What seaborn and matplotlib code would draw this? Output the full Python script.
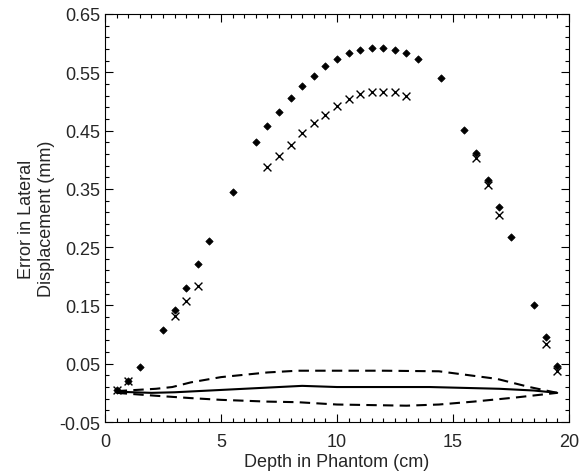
import numpy as np
import pandas as pd
import matplotlib
matplotlib.use("Agg")
import matplotlib.pyplot as plt
import seaborn as sns
from matplotlib.ticker import MultipleLocator, FixedLocator

# Data
dot_depth = [0.5, 1.0, 1.5, 2.5, 3.0, 3.5, 4.0, 4.5, 5.5, 6.5, 7.0, 7.5, 8.0, 8.5,
             9.0, 9.5, 10.0, 10.5, 11.0, 11.5, 12.0, 12.5, 13.0, 13.5, 14.5, 15.5,
             16.0, 16.5, 17.0, 17.5, 18.5, 19.0, 19.5]
dot_error = [0.005, 0.021, 0.045, 0.108, 0.143, 0.180, 0.221, 0.261, 0.344, 0.431,
             0.457, 0.482, 0.505, 0.527, 0.544, 0.560, 0.573, 0.583, 0.588, 0.592,
             0.592, 0.589, 0.583, 0.572, 0.540, 0.451, 0.412, 0.365, 0.318, 0.268,
             0.150, 0.095, 0.046]

cross_depth = [0.5, 1.0, 3.0, 3.5, 4.0, 7.0, 7.5, 8.0, 8.5, 9.0, 9.5, 10.0, 10.5,
               11.0, 11.5, 12.0, 12.5, 13.0, 16.0, 16.5, 17.0, 19.0, 19.5]
cross_error = [0.005, 0.020, 0.132, 0.157, 0.184, 0.387, 0.407, 0.426, 0.445, 0.463,
               0.477, 0.492, 0.504, 0.513, 0.517, 0.517, 0.516, 0.510, 0.403, 0.357,
               0.305, 0.083, 0.037]

mid_depth = [0.5, 2.0, 3.0, 5.0, 7.0, 8.5, 10.0, 12.0, 14.0, 15.0, 17.0, 18.5, 19.5]
mid_error = [0.002, 0.000, 0.001, 0.005, 0.009, 0.012, 0.010, 0.010, 0.010, 0.009,
             0.007, 0.004, 0.000]

upper_depth = [0.5, 2.2, 2.9, 3.7, 5.0, 7.0, 8.3, 10.0, 12.0, 14.4, 16.9, 18.3, 19.5]
upper_error = [0.003, 0.007, 0.010, 0.018, 0.027, 0.035, 0.038, 0.038, 0.038, 0.037,
               0.024, 0.010, 0.000]

lower_depth = [0.5, 2.2, 3.7, 5.0, 7.0, 8.3, 10.0, 13.0, 14.4, 15.9, 17.7, 19.5]
lower_error = [0.000, -0.005, -0.009, -0.012, -0.015, -0.016, -0.020, -0.022, -0.020,
               -0.015, -0.008, 0.000]

y_ticks = [-0.05, 0.05, 0.15, 0.25, 0.35, 0.45, 0.55, 0.65]

sns.set_style("ticks")
plt.rcParams['font.family'] = ['Liberation Sans', 'DejaVu Sans']

fig = plt.figure(figsize=(5.87, 4.77), dpi=100)
ax = fig.add_axes([0.179, 0.1132, 0.790, 0.8554])

# envelope lines
sns.lineplot(x=mid_depth, y=mid_error, ax=ax, color="black", lw=1.5, sort=False)
sns.lineplot(x=upper_depth, y=upper_error, ax=ax, color="black", lw=1.5, sort=False,
             linestyle=(0, (5, 3)))
sns.lineplot(x=lower_depth, y=lower_error, ax=ax, color="black", lw=1.5, sort=False,
             linestyle=(0, (5, 3)))

# measured points
sns.scatterplot(x=dot_depth, y=dot_error, ax=ax, marker="D", s=14, color="black",
                edgecolor="black", linewidth=0.5)
sns.scatterplot(x=cross_depth, y=cross_error, ax=ax, marker="x", s=32, color="black",
                linewidth=1.0)

ax.set_xlim(0, 20)
ax.set_ylim(-0.05, 0.65)
ax.xaxis.set_major_locator(MultipleLocator(5))
ax.xaxis.set_minor_locator(MultipleLocator(0.5))
ax.set_yticks(y_ticks)
ax.set_yticklabels(["%.2f" % v for v in y_ticks])
ax.yaxis.set_minor_locator(FixedLocator(np.arange(-0.05, 0.651, 0.02)))

ax.tick_params(which="both", direction="in", top=True, right=True, labelsize=13,
               color="black", width=0.8)
ax.tick_params(which="major", length=6)
ax.tick_params(which="minor", length=3)
ax.tick_params(axis="x", which="major", pad=8)
for sp in ax.spines.values():
    sp.set_color("black")
    sp.set_linewidth(0.8)

ax.set_xlabel("Depth in Phantom (cm)", fontsize=13, labelpad=2)
ax.set_ylabel("Error in Lateral\nDisplacement (mm)", fontsize=13, labelpad=3)

plt.savefig("out.png", dpi=100)
